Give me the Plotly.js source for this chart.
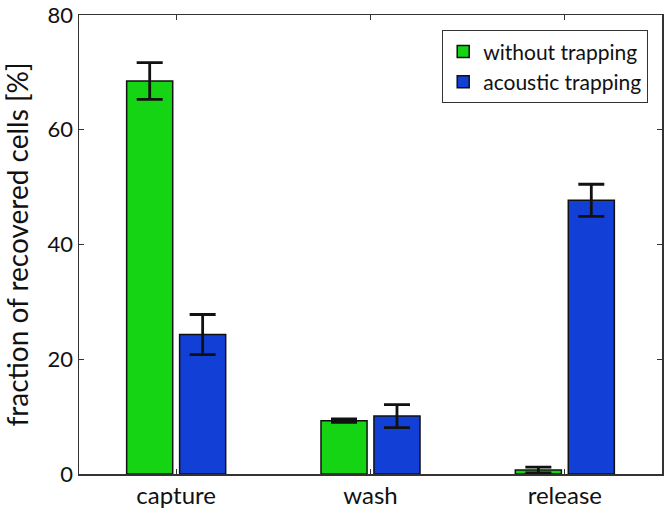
<!DOCTYPE html>
<html><head><meta charset="utf-8">
<script src="https://cdn.plot.ly/plotly-3.0.1.min.js"></script>
<style>html,body{margin:0;padding:0;background:#fff}#chart{width:667px;height:518px}</style>
</head><body><div id="chart"></div>
<script>
const categories = ["capture", "wash", "release"];
const withoutTrapping = [68.5, 9.3, 0.7];
const withoutErr = [3.2, 0.3, 0.5];
const acousticTrapping = [24.3, 10.1, 47.7];
const acousticErr = [3.5, 2.0, 2.8];
const yTicks = [0, 20, 40, 60, 80];

const font = "Lato, Open Sans, sans-serif";
const traces = [
  {type: "bar", name: "without trapping", x: categories, y: withoutTrapping,
   marker: {color: "#14d414", line: {color: "#111", width: 1.5}},
   error_y: {type: "data", array: withoutErr, visible: true, color: "#111", thickness: 2.8, width: 13}},
  {type: "bar", name: "acoustic trapping", x: categories, y: acousticTrapping,
   marker: {color: "#1240d6", line: {color: "#111", width: 1.5}},
   error_y: {type: "data", array: acousticErr, visible: true, color: "#111", thickness: 2.8, width: 13}}
];
const layout = {
  width: 667, height: 518,
  margin: {l: 79, r: 5, t: 15, b: 44},
  paper_bgcolor: "#fff", plot_bgcolor: "#fff",
  barmode: "group", bargap: 0.455, bargroupgap: 0.13,
  showlegend: true,
  legend: {x: 0.976, y: 0.967, xanchor: "right", yanchor: "top",
    bordercolor: "#333", borderwidth: 1.2, bgcolor: "#fff",
    font: {family: font, size: 21, color: "#111"}, tracegroupgap: 0, itemwidth: 30},
  xaxis: {type: "category", range: [-0.5, 2.5], showline: true, mirror: "ticks",
    linecolor: "#333", linewidth: 1.5, ticks: "inside", ticklen: 5, tickcolor: "#333",
    tickfont: {family: font, size: 24, color: "#111"}, showgrid: false, zeroline: false,
    ticklabeloverflow: "allow"},
  yaxis: {range: [0, 80], tickvals: yTicks, showline: true, mirror: "ticks",
    linecolor: "#333", linewidth: 1.5, ticks: "inside", ticklen: 5, tickcolor: "#333",
    tickfont: {family: font, size: 22, color: "#111"}, showgrid: false, zeroline: false,
    ticklabeloverflow: "allow",
    title: {text: "fraction of recovered cells [%]", font: {family: font, size: 28, color: "#111"}, standoff: 20}}
};
Plotly.newPlot("chart", traces, layout, {displayModeBar: false, staticPlot: true});
</script></body></html>
